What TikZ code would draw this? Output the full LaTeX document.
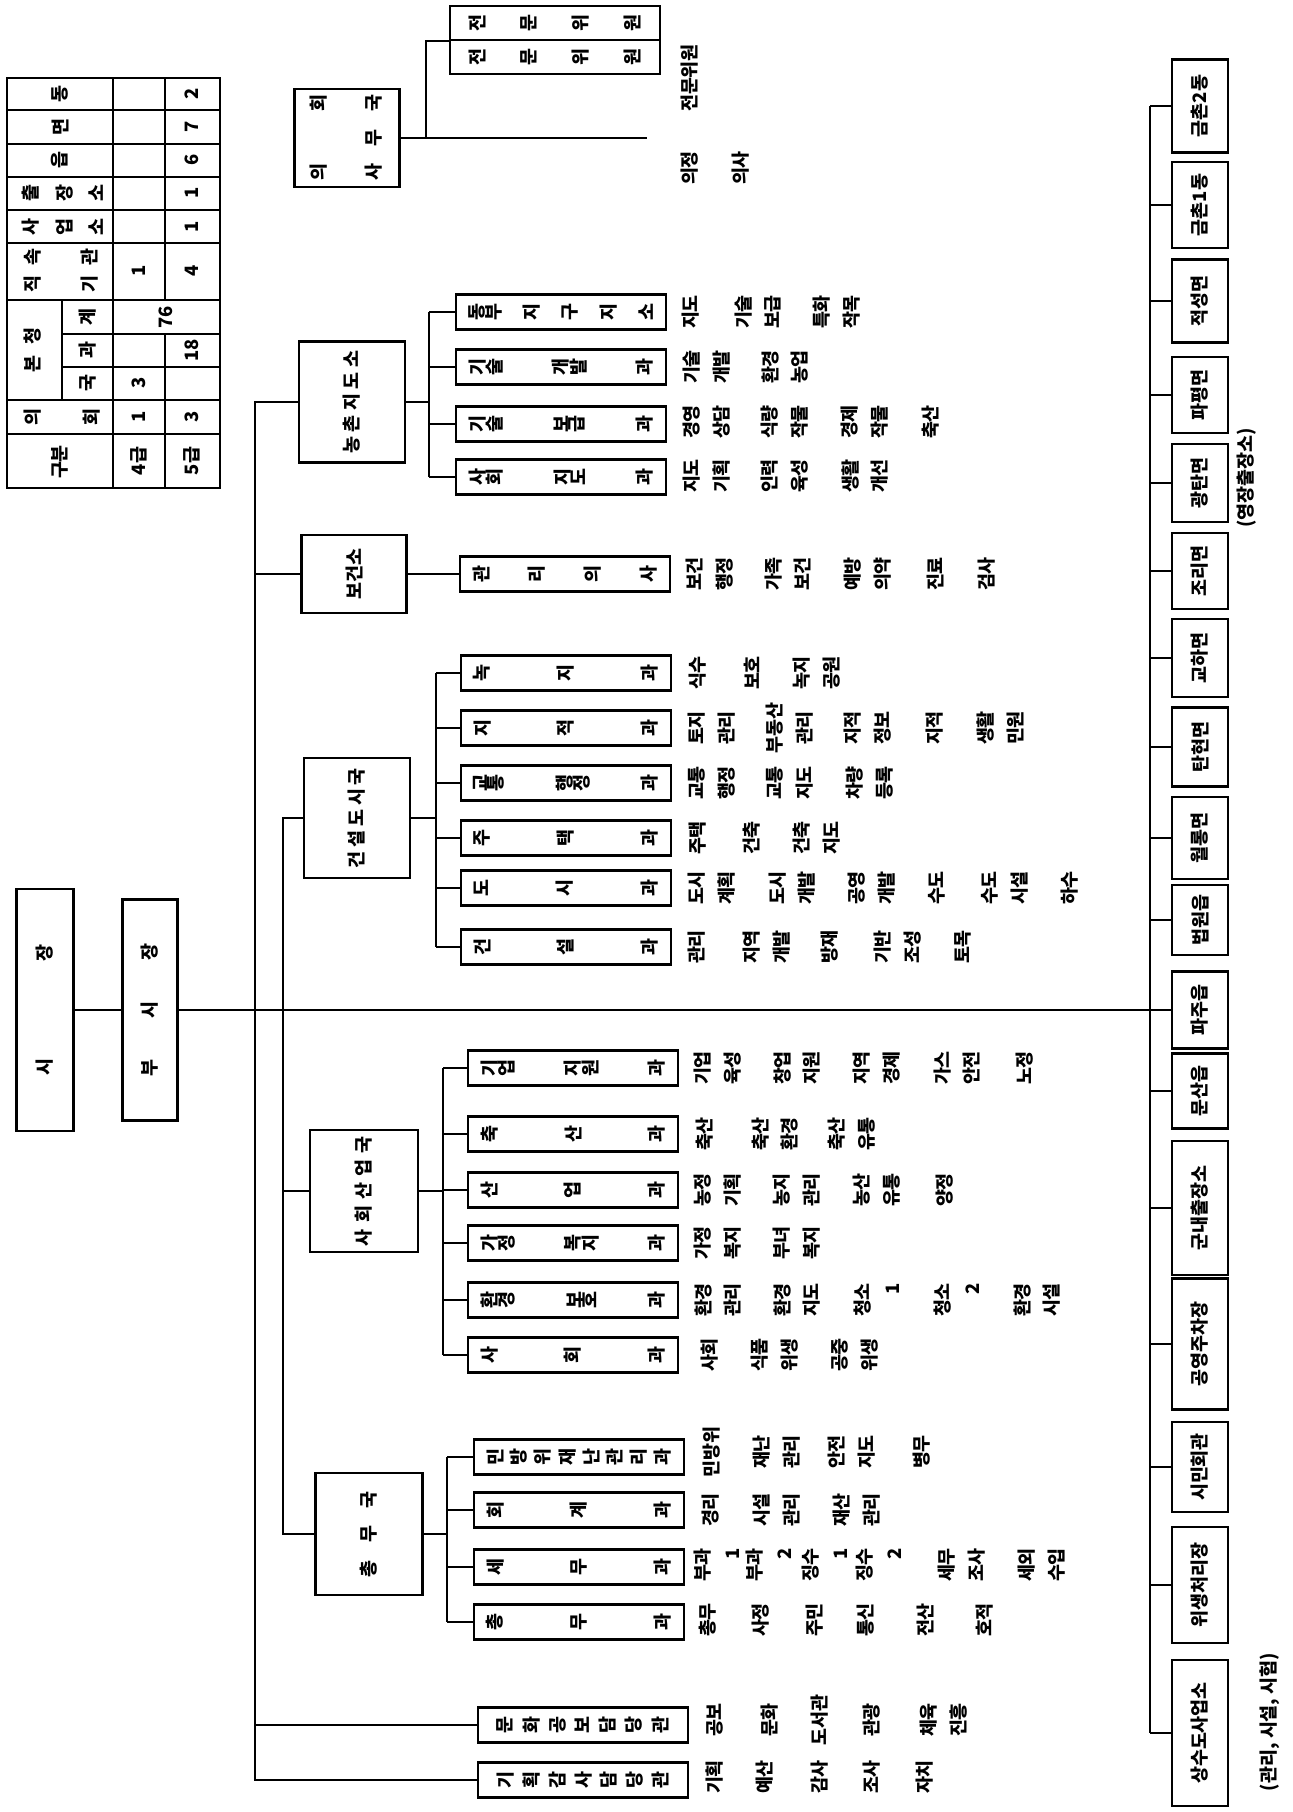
\documentclass[tikz,border=0pt]{standalone}
\usepackage{fontspec}
\setmainfont{Noto Sans CJK KR}
\usetikzlibrary{calc}

\newcommand\chartfont{\bfseries\fontsize{10.5pt}{17pt}\selectfont}
\makeatletter
% each character turned a quarter, '|' = stretch
\def\vtext#1{\vt@loop#1\@nil}
\def\vt@loop#1{\ifx#1\@nil\else\ifx#1|\hfill\else\rotatebox[origin=c]{90}{#1}\fi\expandafter\vt@loop\fi}
\makeatother
\newcommand\gwatext[1]{\makebox[3.7cm]{\expandafter\vtext\expandafter{#1}}}
\newcommand\dutyrow[3]{\foreach \dd/\xx [count=\k] in {#3} {\node[duty] (#1-\k) at (\xx,#2) {\dd};}}

\tikzset{
  box/.style={draw, line width=1.3pt, inner sep=0pt},
  gwabox/.style={box, minimum width=4.2cm, minimum height=0.7cm},
  dongbox/.style={box, minimum width=1.12cm},
  duty/.style={rotate=90, inner sep=0pt, align=center},
  dutyr/.style={duty, align=right},
  link/.style={line width=1.3pt},
}

\begin{document}
\begin{tikzpicture}[x=0.02cm,y=-0.02cm,font=\chartfont]
\path[use as bounding box,fill=white] (0,0) rectangle (1292,1812);

% table
\draw[link] (7,78) rectangle (220,488);
\foreach \yy in {110,144,177,210,243,300,400,434} \draw[link] (7,\yy) -- (220,\yy);
\foreach \yy in {334,367} \draw[link] (62,\yy) -- (220,\yy);
\draw[link] (113,78) -- (113,488);
\draw[link] (165,78) -- (165,300);
\draw[link] (165,334) -- (165,488);
\draw[link] (62,300) -- (62,400);
\foreach \tx/\xx/\yy [count=\k] in {동/60/94, 면/60/127, 읍/60/160, 계/88/317, 과/88/350, 국/88/383,
    구분/60/462, 4급/139/461, 5급/192/461, 2/192/94, 7/192/127, 6/192/160, 1/192/193, 1/192/227,
    1/139/271, 4/192/271, 76/166/317, 18/192/350, 3/139/383, 1/139/417, 3/192/417}
  \node[duty] (tb\k) at (\xx,\yy) {\tx};
\node[inner sep=0pt] (tbc1) at (63,193) {\makebox[1.64cm]{\vtext{출|장|소}}};
\node[inner sep=0pt] (tbc2) at (63,227) {\makebox[1.64cm]{\vtext{사|업|소}}};
\node[inner sep=0pt] (tbc3) at (62,417) {\makebox[1.52cm]{\vtext{의|회}}};
\node[duty] (tbc4) at (33,271) {\makebox[0.88cm]{직\hfill 속}};
\node[duty] (tbc5) at (90,271) {\makebox[0.88cm]{기\hfill 관}};
\node[duty] (tbc6) at (33,350) {\makebox[0.88cm]{본\hfill 청}};

% mayor
\node[box,minimum width=1.14cm,minimum height=4.84cm] (sijang) at (45,1010) {\rotatebox{90}{\makebox[2.62cm]{시\hfill 장}}};
\node[box,minimum width=1.1cm,minimum height=4.42cm] (busi) at (150,1010) {\rotatebox{90}{\makebox[2.68cm]{부\hfill 시\hfill 장}}};
\draw[link] (sijang.east) -- (busi.west);

% council
\node[box,minimum width=2.1cm,minimum height=1.96cm] (uihoe) at (347,138)
  {\rotatebox{90}{\begin{tabular}{@{}c@{}}\makebox[1.72cm]{의\hfill 회}\\[0.5cm]\makebox[1.72cm]{사\hfill 무\hfill 국}\end{tabular}}};
\node[gwabox,minimum height=0.68cm] (jm1) at (555,23) {\makebox[3.46cm]{\vtext{전|문|위|원}}};
\node[gwabox,minimum height=0.68cm] (jm2) at (555,57) {\makebox[3.46cm]{\vtext{전|문|위|원}}};
\node[duty] (jmt) at (690,78) {전문위원};
\node[duty] (uijeong) at (690,168) {의정};
\node[duty] (uisa) at (741,168) {의사};
\coordinate (uiend) at (647,138);
\coordinate (uibus) at (426,0);
\draw[link] (uihoe.east) -- (uiend);
\draw[link] (jm1.south west) -- (jm1.south west -| uibus) -- (uihoe.east -| uibus);

% departments
\node[box,minimum width=2.12cm,minimum height=2.42cm] (nongchon) at (352,402)
  {\rotatebox{90}{\makebox[2.06cm]{농\hfill 촌\hfill 지\hfill 도\hfill 소}}};
\node[box,minimum width=2.1cm,minimum height=1.56cm] (bogun) at (354,574) {\rotatebox{90}{보건소}};
\node[box,minimum width=2.12cm,minimum height=2.4cm] (geonseol) at (357,818)
  {\rotatebox{90}{\makebox[2.0cm]{건\hfill 설\hfill 도\hfill 시\hfill 국}}};
\node[box,minimum width=2.16cm,minimum height=2.44cm] (sahoe) at (364,1191)
  {\rotatebox{90}{\makebox[2.2cm]{사\hfill 회\hfill 산\hfill 업\hfill 국}}};
\node[box,minimum width=2.14cm,minimum height=2.44cm] (chongmu) at (369,1534)
  {\rotatebox{90}{\makebox[1.72cm]{총\hfill 무\hfill 국}}};
\node[gwabox] (munhwa) at (583,1725) {\makebox[3.44cm]{\vtext{문|화|공|보|담|당|관}}};
\node[gwabox] (gihoek) at (583,1780) {\makebox[3.44cm]{\vtext{기|획|감|사|담|당|관}}};

% buses
\coordinate (obus) at (255,0);
\coordinate (ibus) at (283,0);
\draw[link] (nongchon.west) -- (nongchon.west -| obus) -- (gihoek.west -| obus) -- (gihoek.west);
\draw[link] (bogun.west) -- (bogun.west -| obus);
\draw[link] (munhwa.west) -- (munhwa.west -| obus);
\draw[link] (geonseol.west) -- (geonseol.west -| ibus) -- (chongmu.west -| ibus) -- (chongmu.west);
\draw[link] (sahoe.west) -- (sahoe.west -| ibus);

% 농촌지도소
\foreach \lab/\yy [count=\i] in {동부|지|구|지|소/312, 기술|개발|과/367, 기술|보급|과/424, 사회|지도|과/477}
  \node[gwabox] (nc\i) at (561,\yy) {\gwatext{\lab}};
\coordinate (ncbus) at (429,0);
\draw[link] (nongchon.east) -- (nongchon.east -| ncbus);
\draw[link] (nc1.west -| ncbus) -- (nc4.west -| ncbus);
\foreach \i in {1,...,4} \draw[link] (nc\i.west) -- (nc\i.west -| ncbus);
\dutyrow{ncd1}{312}{지도/691, 기술\\보급/758, 특화\\작목/837}
\dutyrow{ncd2}{367}{기술\\개발/707, 환경\\농업/785}
\dutyrow{ncd3}{422}{경영\\상담/707, 식량\\작물/785, 경제\\작물/865, 축산/931}
\dutyrow{ncd4}{476}{지도\\기획/707, 인력\\육성/785, 생활\\개선/865}

% 보건소
\node[gwabox] (gwanri) at (565,574) {\gwatext{관|리|의|사}};
\draw[link] (bogun.east) -- (gwanri.west);
\dutyrow{bgd}{574}{보건\\행정/710, 가족\\보건/788, 예방\\의약/868, 진료/935, 검사/987}

% 건설도시국
\foreach \lab/\yy [count=\i] in {녹|지|과/673, 지|적|과/728, 교통|행정|과/783, 주|택|과/838, 도|시|과/888, 건|설|과/947}
  \node[gwabox] (gs\i) at (566,\yy) {\gwatext{\lab}};
\coordinate (gsbus) at (436,0);
\draw[link] (geonseol.east) -- (geonseol.east -| gsbus);
\draw[link] (gs1.west -| gsbus) -- (gs6.west -| gsbus);
\foreach \i in {1,...,6} \draw[link] (gs\i.west) -- (gs\i.west -| gsbus);
\dutyrow{gsd1}{673}{식수/698, 보호/752, 녹지\\공원/817}
\dutyrow{gsd2}{728}{토지\\관리/712, 부동산\\관리/790, 지적\\정보/868, 지적/935, 생활\\민원/1000}
\dutyrow{gsd3}{783}{교통\\행정/712, 교통\\지도/790, 차량\\등록/870}
\dutyrow{gsd4}{838}{주택/698, 건축/752, 건축\\지도/817}
\dutyrow{gsd5}{888}{도시\\계획/712, 도시\\개발/792, 공영\\개발/872, 수도/937, 수도\\시설/1005, 하수/1070}
\dutyrow{gsd6}{947}{관리/697, 지역\\개발/767, 방재/830, 기반\\조성/898, 토목/963}

% 사회산업국
\foreach \lab/\yy [count=\i] in {기업|지원|과/1068, 축|산|과/1134, 산|업|과/1190, 가정|복지|과/1243, 환경|보호|과/1300, 사|회|과/1355}
  \node[gwabox] (sh\i) at (573,\yy) {\gwatext{\lab}};
\coordinate (shbus) at (443,0);
\draw[link] (sahoe.east) -- (sahoe.east -| shbus);
\draw[link] (sh1.west -| shbus) -- (sh6.west -| shbus);
\foreach \i in {1,...,6} \draw[link] (sh\i.west) -- (sh\i.west -| shbus);
\dutyrow{shd1}{1068}{기업\\육성/718, 창업\\지원/797, 지역\\경제/877, 가스\\안전/957, 노정/1025}
\dutyrow{shd2}{1134}{축산/705, 축산\\환경/775, 축산\\유통/852}
\dutyrow{shd3}{1190}{농정\\기획/718, 농지\\관리/797, 농산\\유통/877, 양정/945}
\dutyrow{shd4}{1243}{가정\\복지/718, 부녀\\복지/797}
\dutyrow{shd5}{1300}{환경\\관리/718, 환경\\지도/797, 환경\\시설/1037}
\node[dutyr] (shd5-c1) at (877,1300) {청소\\1};
\node[dutyr] (shd5-c2) at (957,1300) {청소\\2};
\dutyrow{shd6}{1355}{사회/710, 식품\\위생/775, 공중\\위생/855}

% 총무국
\foreach \lab/\yy [count=\i] in {민|방|위|재|난|관|리|과/1457, 회|계|과/1510, 세|무|과/1567, 총|무|과/1622}
  \node[gwabox] (cm\i) at (579,\yy) {\gwatext{\lab}};
\coordinate (cmbus) at (447,0);
\draw[link] (chongmu.east) -- (chongmu.east -| cmbus);
\draw[link] (cm1.west -| cmbus) -- (cm4.west -| cmbus);
\foreach \i in {1,...,4} \draw[link] (cm\i.west) -- (cm\i.west -| cmbus);
\dutyrow{cmd1}{1452}{민방위/712, 재난\\관리/777, 안전\\지도/852, 병무/922}
\dutyrow{cmd2}{1510}{경리/711, 시설\\관리/777, 재산\\관리/857}
\node[dutyr] (cmd3-b1) at (717,1565) {부과\\1};
\node[dutyr] (cmd3-b2) at (769,1565) {부과\\2};
\node[dutyr] (cmd3-j1) at (825,1565) {징수\\1};
\node[dutyr] (cmd3-j2) at (879,1565) {징수\\2};
\dutyrow{cmd3}{1565}{세무\\조사/962, 세외\\수입/1042}
\dutyrow{cmd4}{1620}{총무/708, 사정/761, 주민/815, 통신/866, 전산/925, 호적/985}

% 담당관
\dutyrow{mhd}{1720}{공보/715, 문화/770, 도서관/820, 관광/872, 체육\\진흥/944}
\dutyrow{ghd}{1777}{기획/715, 예산/765, 감사/820, 조사/872, 자치/925}

% 읍면동 and others
\foreach \nm/\yy/\hh [count=\i] in {금촌2동/106/93, 금촌1동/205/86, 적성면/301/83, 파평면/395/76,
    광탄면/483/78, 조리면/571/76, 교하면/658/78, 탄현면/747/79, 월롱면/838/82, 법원읍/920/70,
    파주읍/1010/77, 문산읍/1091/75, 군내출장소/1208/134, 공영주차장/1344/131, 시민회관/1467/90,
    위생처리장/1585/116, 상수도사업소/1733/146}
  \node[dongbox,minimum height=\hh*0.02cm] (r\i) at (1200,\yy) {\rotatebox{90}{\nm}};
\coordinate (rbus) at (1150,0);
\draw[link] (r1.west -| rbus) -- (r17.west -| rbus);
\foreach \i in {1,...,17} \draw[link] (r\i.west) -- (r\i.west -| rbus);
\draw[link] (busi.east) -- (r11.west -| rbus);
\node[duty] (note1) at (1247,478) {(영장출장소)};
\node[duty] (note2) at (1270,1722) {(관리, 시설, 시험)};
\end{tikzpicture}
\end{document}
